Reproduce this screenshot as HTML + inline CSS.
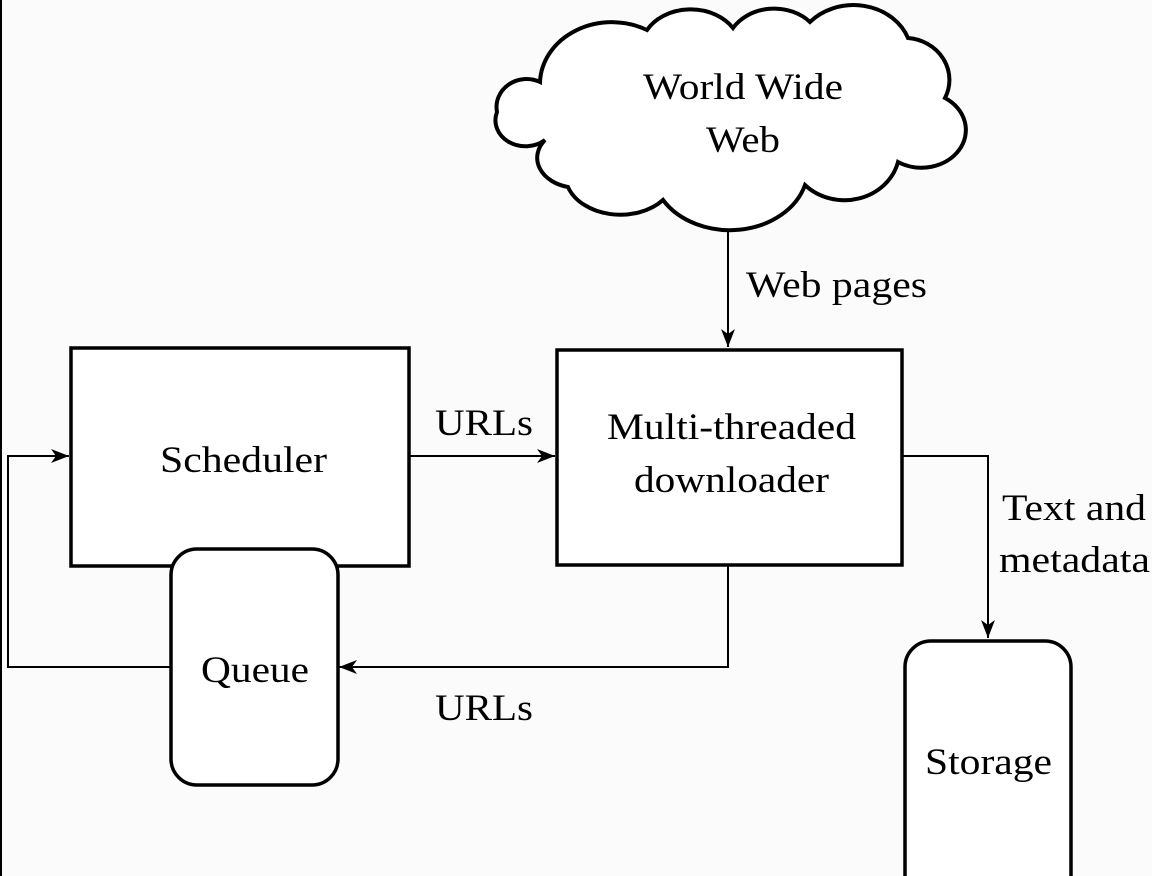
<!DOCTYPE html>
<html><head><style>
html,body{margin:0;padding:0;background:#fbfbfb;}
svg{display:block}
text{font-family:"Liberation Serif",serif;font-size:37px;fill:#000}
</style></head><body>
<svg width="1152" height="876" viewBox="0 0 1152 876">
<defs>
<marker id="a" markerWidth="20" markerHeight="14" refX="18" refY="7" orient="auto" markerUnits="userSpaceOnUse">
<path d="M0,0 L18,7 L0,14 L5,7 Z" fill="#000"/>
</marker>
</defs>
<rect x="0" y="0" width="2" height="876" fill="#000"/>
<!-- cloud -->
<path d="M540,82 A72,62 0 0 1 647,30 A50,40 0 0 1 733,28 A48,40 0 0 1 810,22 A58,50 0 0 1 908,38 A45,42 0 0 1 945,98 A40,34 0 0 1 898,162 A55,50 0 0 1 805,185 A78,62 0 0 1 663,200 A55,40 0 0 1 568,187 A40,30 0 0 1 545,140 A30,26 0 0 1 497,112 A30,28 0 0 1 540,82 Z" fill="#fff" stroke="#000" stroke-width="4"/>
<text x="643" y="99" textLength="200" lengthAdjust="spacingAndGlyphs">World Wide</text>
<text x="706" y="152" textLength="74" lengthAdjust="spacingAndGlyphs">Web</text>
<!-- connectors -->
<g stroke="#000" stroke-width="2" fill="none">
<line x1="728" y1="232" x2="728" y2="347" marker-end="url(#a)"/>
<line x1="410" y1="456" x2="555" y2="456" marker-end="url(#a)"/>
<polyline points="728,565 728,667 339,667" marker-end="url(#a)"/>
<polyline points="170,667 8,667 8,456 69,456" marker-end="url(#a)"/>
<polyline points="903,456 988,456 988,638" marker-end="url(#a)"/>
</g>
<rect x="71" y="348" width="338" height="218" fill="#fff" stroke="#000" stroke-width="3.5"/>
<rect x="171" y="549" width="167" height="236" rx="26" fill="#fff" stroke="#000" stroke-width="3.5"/>
<rect x="557" y="350" width="345" height="215" fill="#fff" stroke="#000" stroke-width="3.5"/>
<rect x="905" y="641" width="166" height="260" rx="26" fill="#fff" stroke="#000" stroke-width="3.5"/>
<text x="160" y="472" textLength="167" lengthAdjust="spacingAndGlyphs">Scheduler</text>
<text x="201" y="682" textLength="108" lengthAdjust="spacingAndGlyphs">Queue</text>
<text x="607" y="439" textLength="249" lengthAdjust="spacingAndGlyphs">Multi-threaded</text>
<text x="634" y="492" textLength="195" lengthAdjust="spacingAndGlyphs">downloader</text>
<text x="925" y="774" textLength="127" lengthAdjust="spacingAndGlyphs">Storage</text>
<text x="746" y="297" textLength="181" lengthAdjust="spacingAndGlyphs">Web pages</text>
<text x="435" y="435" textLength="98" lengthAdjust="spacingAndGlyphs">URLs</text>
<text x="435" y="720" textLength="98" lengthAdjust="spacingAndGlyphs">URLs</text>
<text x="1002" y="520" textLength="144" lengthAdjust="spacingAndGlyphs">Text and</text>
<text x="999" y="572" textLength="151" lengthAdjust="spacingAndGlyphs">metadata</text>
</svg>
</body></html>
